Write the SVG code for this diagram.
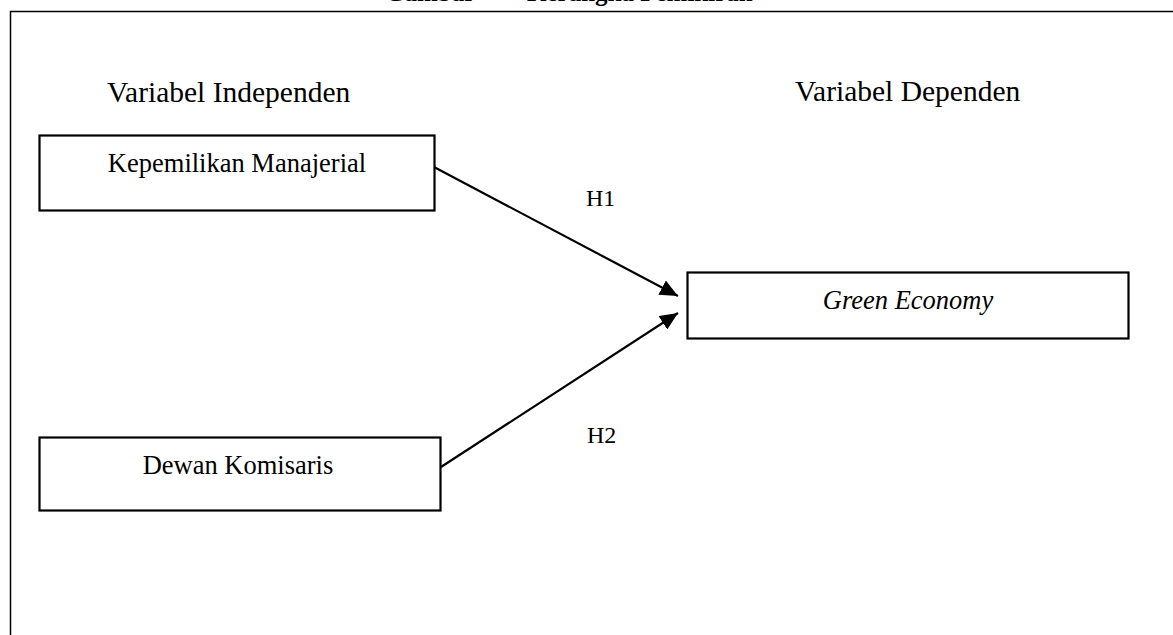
<svg xmlns="http://www.w3.org/2000/svg" width="1173" height="635" viewBox="0 0 1173 635">
<style>
  .bg { fill: #ffffff; }
  .frame { fill: none; stroke: #000; stroke-width: 1.5; }
  .box { fill: #ffffff; stroke: #000; stroke-width: 2.2; }
  .t { font-family: "Liberation Serif", "Times New Roman", serif; fill: #000; }
  .lbl { font-size: 26.5px; }
  .head { font-size: 29.5px; }
  .h { font-size: 24px; }
  .title { font-size: 25px; font-weight: bold; }
  .conn { fill: none; stroke: #000; stroke-width: 2.2; }
</style>
<defs>
  <marker id="arrowhead" viewBox="0 0 18 16" refX="18" refY="8" markerWidth="18" markerHeight="16" orient="auto" markerUnits="userSpaceOnUse">
    <path d="M0,0 L18,8 L0,16 z" fill="#000"/>
  </marker>
</defs>
<rect class="bg" x="0" y="0" width="1173" height="635"/>
<g id="title">
  <text class="t title" x="385" y="0.8">Gambar</text>
  <text class="t title" x="527" y="0.8">Kerangka Pemikiran</text>
</g>
<path class="frame" d="M10.5,640 L10.5,11.5 L1180,11.5"/>
<g id="heading-independen">
  <text class="t head" x="107" y="102">Variabel Independen</text>
</g>
<g id="heading-dependen">
  <text class="t head" x="795" y="101">Variabel Dependen</text>
</g>
<g id="connectors">
  <line class="conn" x1="434" y1="167" x2="678" y2="296" marker-end="url(#arrowhead)"/>
  <line class="conn" x1="441" y1="467" x2="678" y2="313" marker-end="url(#arrowhead)"/>
  <text class="t h" x="586" y="206">H1</text>
  <text class="t h" x="587" y="443">H2</text>
</g>
<g id="node-kepemilikan">
  <rect class="box" x="39.5" y="135.5" width="395" height="75"/>
  <text class="t lbl" x="237" y="172" text-anchor="middle">Kepemilikan Manajerial</text>
</g>
<g id="node-dewan">
  <rect class="box" x="39.5" y="437.5" width="401" height="73"/>
  <text class="t lbl" x="238" y="474" text-anchor="middle">Dewan Komisaris</text>
</g>
<g id="node-green">
  <rect class="box" x="687.5" y="272.5" width="441" height="66"/>
  <text class="t lbl" x="908" y="309" text-anchor="middle" font-style="italic">Green Economy</text>
</g>
</svg>
